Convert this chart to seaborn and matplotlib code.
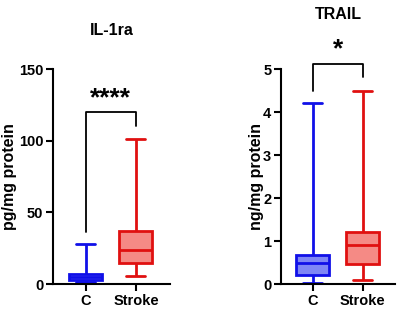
import numpy as np
import pandas as pd
import matplotlib as mpl
mpl.use("Agg")
import matplotlib.pyplot as plt
import seaborn as sns

sns.set_theme(style="ticks")
plt.rcParams["font.family"] = ["Liberation Sans", "DejaVu Sans"]
plt.rcParams["font.weight"] = "bold"
for k in ["text.color", "axes.labelcolor", "xtick.color", "ytick.color"]:
    plt.rcParams[k] = "black"

groups = ["C", "Stroke"]

# five-number summaries (min, Q1, median, Q3, max)
il1ra_c = [1.3, 3.0, 5.0, 7.0, 28]
il1ra_stroke = [5.5, 15, 24, 37, 101]
trail_c = [0.03, 0.22, 0.48, 0.67, 4.2]
trail_stroke = [0.1, 0.47, 0.9, 1.22, 4.5]

# significance brackets: (left end, right end, top), star label
il1ra_bracket = (36, 110, 120)
il1ra_star = "****"
trail_bracket = (4.49, 4.81, 5.12)
trail_star = "*"

edge = {"C": "#1010e8", "Stroke": "#e01010"}
fill = {"C": "#7f86f5", "Stroke": "#f58a85"}


def make_df(c_vals, s_vals):
    return pd.DataFrame({"group": ["C"] * len(c_vals) + ["Stroke"] * len(s_vals),
                         "value": c_vals + s_vals})


fig = plt.figure(figsize=(3.98, 3.17), dpi=100)
ax1 = fig.add_axes([0.133, 0.104, 0.294, 0.678])
ax2 = fig.add_axes([0.706, 0.104, 0.286, 0.678])

panels = [
    (ax1, make_df(il1ra_c, il1ra_stroke), "pg/mg protein", (0, 150), [0, 50, 100, 150],
     il1ra_bracket, il1ra_star, (-0.66, 1.68)),
    (ax2, make_df(trail_c, trail_stroke), "ng/mg protein", (0, 5), [0, 1, 2, 3, 4, 5],
     trail_bracket, trail_star, (-0.64, 1.64)),
]

for ax, df, ylab, ylim, yticks, br, star, xlim in panels:
    for g in groups:
        sns.boxplot(data=df[df.group == g], x="group", y="value", order=groups,
                    whis=(0, 100), showfliers=False, width=0.66, saturation=1,
                    color=fill[g], linecolor=edge[g], linewidth=2.0,
                    capwidths=0.38, ax=ax)
    ax.set_xlim(*xlim)
    ax.set_ylim(*ylim)
    ax.set_yticks(yticks)
    ax.set_xlabel("")
    ax.set_ylabel(ylab, fontsize=11.5, fontweight="bold")
    sns.despine(ax=ax)
    for s in ["left", "bottom"]:
        ax.spines[s].set_linewidth(1.5)
        ax.spines[s].set_color("black")
    ax.tick_params(axis="both", labelsize=10.5, width=1.5, length=5, pad=2, colors="black")
    for lab in ax.get_xticklabels() + ax.get_yticklabels():
        lab.set_fontweight("bold")
    # significance bracket
    ax.plot([0, 0, 1, 1], [br[0], br[2], br[2], br[1]], color="black",
            lw=1.3, clip_on=False)
    ax.text(0.5, br[2] + (ylim[1] - ylim[0]) * 0.01, star, ha="center", va="bottom",
            fontsize=19, fontweight="bold", clip_on=False)

ax1.yaxis.set_label_coords(-0.31, 0.5)
ax2.yaxis.set_label_coords(-0.15, 0.5)

fig.text(0.28, 0.905, "IL-1ra", ha="center", va="center", fontsize=11.5, fontweight="bold")
fig.text(0.849, 0.955, "TRAIL", ha="center", va="center", fontsize=11.5, fontweight="bold")

fig.savefig("out.png", dpi=100)
